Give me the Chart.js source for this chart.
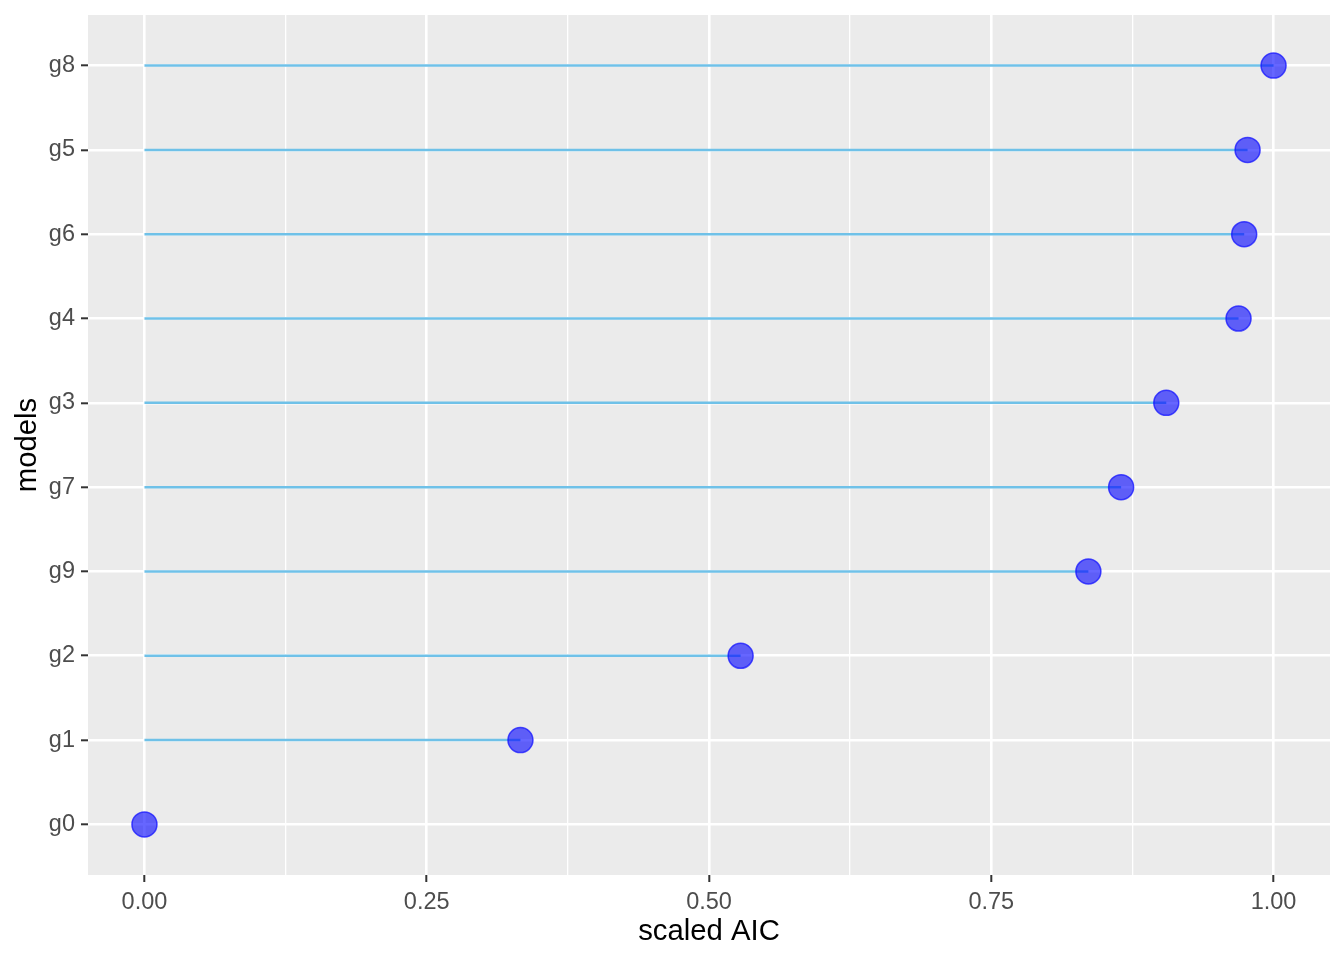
<!DOCTYPE html>
<html>
<head>
<meta charset="utf-8">
<script src="https://cdn.jsdelivr.net/npm/chart.js@4"></script>
<style>
  body { margin: 0; background: #fff; }
  canvas { display: block; }
</style>
</head>
<body>
<canvas id="chart" width="1344" height="960"></canvas>
<script>
const models = ["g0", "g1", "g2", "g9", "g7", "g3", "g4", "g6", "g5", "g8"];
const scaledAIC = [0, 0.333, 0.528, 0.836, 0.865, 0.905, 0.969, 0.974, 0.977, 1.0];
const xMajor = [0, 0.25, 0.5, 0.75, 1];
const xMinor = [0.125, 0.375, 0.625, 0.875];
const xLabels = ["0.00", "0.25", "0.50", "0.75", "1.00"];

const panelBg = {
  id: "panelBg",
  beforeDraw(chart) {
    const { ctx, chartArea: a } = chart;
    ctx.save();
    ctx.fillStyle = "#EBEBEB";
    ctx.fillRect(a.left, a.top, a.right - a.left, a.bottom - a.top);
    ctx.restore();
  }
};

// one segment per model, from 0 to its value
const segments = models.map((m, i) => ({
  type: "line",
  data: [{ x: 0, y: i }, { x: scaledAIC[i], y: i }],
  borderColor: "#6fc1e8",
  borderWidth: 2.5,
  pointRadius: 0,
  showLine: true,
  order: 2
}));

const points = {
  type: "scatter",
  data: models.map((m, i) => ({ x: scaledAIC[i], y: i })),
  backgroundColor: "rgba(0, 0, 255, 0.6)",
  borderColor: "rgba(20, 20, 255, 0.75)",
  borderWidth: 1.5,
  pointRadius: 12.5,
  order: 1
};

const isMajor = v => xMajor.includes(v);

new Chart(document.querySelector("#chart"), {
  type: "scatter",
  data: { datasets: [...segments, points] },
  plugins: [panelBg],
  options: {
    responsive: false,
    animation: false,
    layout: { padding: { top: 15, right: 14, left: 0, bottom: 0 } },
    plugins: { legend: { display: false }, tooltip: { enabled: false } },
    scales: {
      x: {
        type: "linear",
        min: -0.05,
        max: 1.05,
        afterBuildTicks: s => { s.ticks = [...xMajor, ...xMinor].sort((a, b) => a - b).map(v => ({ value: v })); },
        afterFit: s => { s.height = 85; s.paddingLeft = 0; s.paddingRight = 0; },
        border: { display: false },
        grid: {
          color: "#ffffff",
          lineWidth: c => (isMajor(c.tick.value) ? 2.6 : 1.3),
          tickColor: c => (isMajor(c.tick.value) ? "#333333" : "rgba(0,0,0,0)"),
          tickLength: 7,
          tickWidth: 2
        },
        ticks: {
          autoSkip: false,
          maxRotation: 0,
          padding: 6,
          color: "#4D4D4D",
          font: { family: "Liberation Sans", size: 23.5 },
          callback: v => (isMajor(v) ? xLabels[xMajor.indexOf(v)] : "")
        },
        title: {
          display: true,
          text: "scaled AIC",
          color: "#000000",
          font: { family: "Liberation Sans", size: 29.3 },
          padding: { top: 0, bottom: 11 }
        }
      },
      y: {
        type: "linear",
        min: -0.6,
        max: 9.6,
        afterBuildTicks: s => { s.ticks = models.map((m, i) => ({ value: i })); },
        afterFit: s => { s.width = 88; s.paddingTop = 0; s.paddingBottom = 0; },
        border: { display: false },
        grid: {
          color: "#ffffff",
          lineWidth: 2.6,
          tickColor: "#333333",
          tickLength: 7,
          tickWidth: 2
        },
        ticks: {
          autoSkip: false,
          padding: 6,
          color: "#4D4D4D",
          font: { family: "Liberation Sans", size: 23.5 },
          callback: v => models[v]
        },
        title: {
          display: true,
          text: "models",
          color: "#000000",
          font: { family: "Liberation Sans", size: 29.3 },
          padding: { top: 10, bottom: 0 }
        }
      }
    }
  }
});
</script>
</body>
</html>
